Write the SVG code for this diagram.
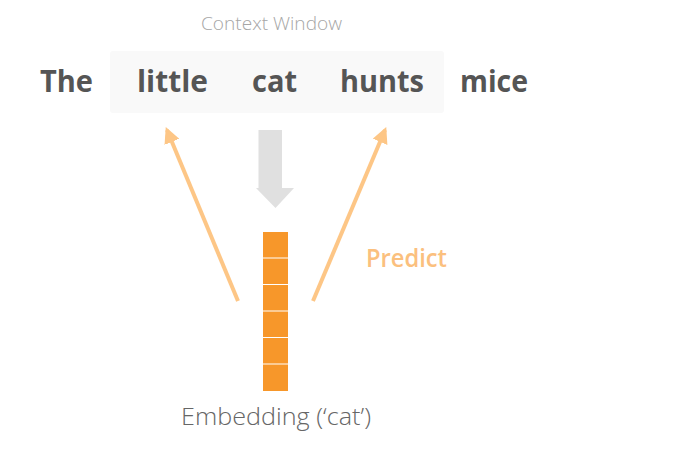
<svg xmlns="http://www.w3.org/2000/svg" width="684" height="467" viewBox="0 0 684 467">
<defs>
<style>
.word{font-family:"Open Sans","Noto Sans",sans-serif;font-weight:700;font-size:31px;fill:#555555}
.lite{font-family:"Open Sans","Noto Sans",sans-serif;font-weight:300}
.pred{stroke:#fdc686;stroke-width:4;fill:none}
.cell{fill:#f7972a}
</style>
<marker id="ah" viewBox="0 0 10 10" refX="8" refY="5" markerWidth="4" markerHeight="4" orient="auto" markerUnits="strokeWidth">
<path d="M0,0 L10,5 L0,10 Z" fill="#fdc686"/>
</marker>
</defs>
<rect width="684" height="467" fill="#ffffff"/>
<g id="context-window">
<rect x="110" y="51" width="334" height="62" rx="3" fill="#f9f9f9"/>
<text class="lite" x="271.5" y="30" font-size="18" fill="#a6a6a6" text-anchor="middle" textLength="141" lengthAdjust="spacingAndGlyphs">Context Window</text>
</g>
<g id="word-the"><text class="word" x="40" y="92" textLength="53" lengthAdjust="spacingAndGlyphs">The</text></g>
<g id="word-little"><text class="word" x="137" y="92" textLength="71" lengthAdjust="spacingAndGlyphs">little</text></g>
<g id="word-cat"><text class="word" x="252" y="92" textLength="45" lengthAdjust="spacingAndGlyphs">cat</text></g>
<g id="word-hunts"><text class="word" x="340" y="92" textLength="84" lengthAdjust="spacingAndGlyphs">hunts</text></g>
<g id="word-mice"><text class="word" x="460" y="92" textLength="68" lengthAdjust="spacingAndGlyphs">mice</text></g>
<g id="embedding">
<rect class="cell" x="263" y="232" width="25" height="25.5"/>
<rect class="cell" x="263" y="258.5" width="25" height="25.5"/>
<rect class="cell" x="263" y="285" width="25" height="25.5"/>
<rect class="cell" x="263" y="311.5" width="25" height="25.5"/>
<rect class="cell" x="263" y="338" width="25" height="25.5"/>
<rect class="cell" x="263" y="364.5" width="25" height="26.5"/>
<text class="lite" x="276" y="425" font-size="23" fill="#666666" text-anchor="middle" textLength="190" lengthAdjust="spacingAndGlyphs">Embedding (‘cat’)</text>
</g>
<g id="predict-label">
<text x="366" y="267" font-family="Open Sans,Noto Sans,sans-serif" font-weight="600" font-size="25" fill="#fbc07e" textLength="81" lengthAdjust="spacingAndGlyphs">Predict</text>
</g>
<g id="connectors">
<path d="M258.5,130 H282 V188 H294 L275.5,208 L256,188 H258.5 Z" fill="#e0e0e0"/>
<line class="pred" x1="238" y1="301" x2="167" y2="130" marker-end="url(#ah)"/>
<line class="pred" x1="313" y1="301" x2="385" y2="130" marker-end="url(#ah)"/>
</g>
</svg>
